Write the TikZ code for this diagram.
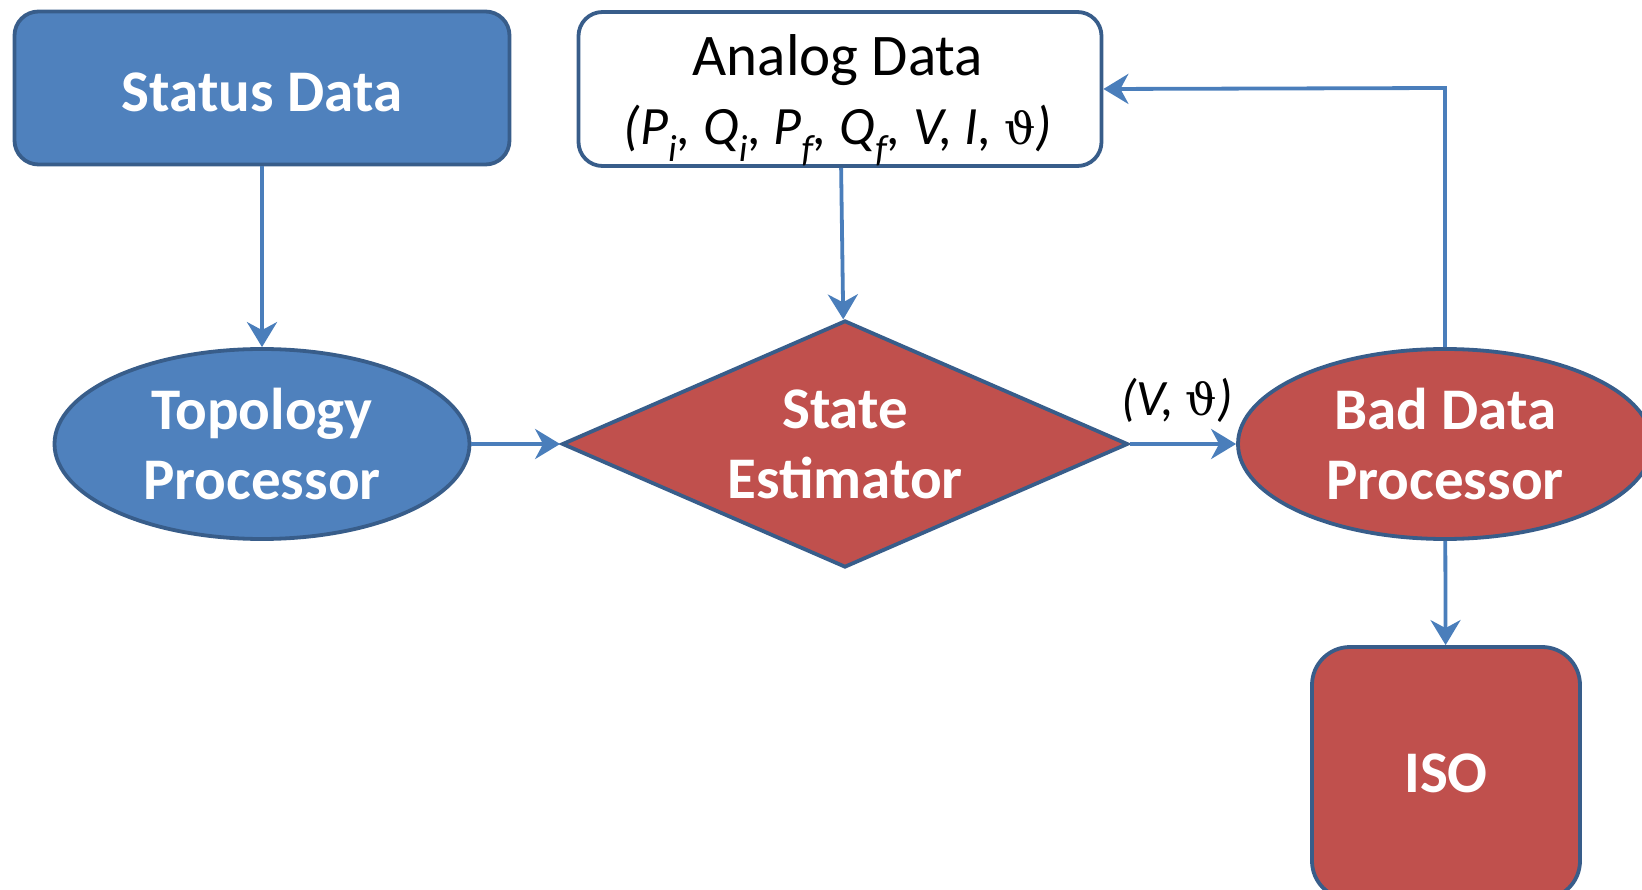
\documentclass[tikz,border=0pt]{standalone}
\usepackage{fontspec}
\setmainfont{Carlito}
\newfontfamily\greekit{DejaVu Serif}[UprightFont=*-Italic]
\usetikzlibrary{shapes.geometric,arrows.meta}
\definecolor{boxblue}{HTML}{4F81BD}
\definecolor{boxred}{HTML}{C0504D}
\definecolor{edgeblue}{HTML}{385D8A}
\definecolor{linkblue}{HTML}{4A7EBB}
\newcommand{\sub}[1]{\textsubscript{\textit{#1}}}
\newcommand{\vth}{{\greekit\fontsize{44}{54}\selectfont ϑ}}
\begin{document}
\begin{tikzpicture}[x=1pt,y=-1pt,
  shapebase/.style={draw=edgeblue, line width=3.8pt, inner sep=0pt, align=center,
    font=\fontsize{59}{70}\selectfont\bfseries, text=white},
  bluebox/.style={shapebase, fill=boxblue, rounded corners=24pt},
  blueoval/.style={shapebase, fill=boxblue, ellipse},
  redoval/.style={shapebase, fill=boxred, ellipse},
  reddiamond/.style={shapebase, fill=boxred, diamond, aspect=2.29},
  redbox/.style={shapebase, fill=boxred, rounded corners=38pt},
  whitebox/.style={shapebase, fill=white, rounded corners=24pt},
  boxtext/.style={inner sep=0pt, align=center, text=black,
    font=\fontsize{59}{70}\selectfont},
  link/.style={draw=linkblue, line width=3.8pt,
    -{Stealth[length=25pt,width=30pt,inset=8pt]}},
  tag/.style={font=\fontsize{51}{60}\selectfont\itshape, inner sep=0pt}
]
\clip (0,0) rectangle (1642,890);

% input boxes
\node[bluebox, minimum width=495pt, minimum height=153pt, text height=47pt, text depth=0pt]
  (status) at (262,88) {Status Data};
\node[whitebox, minimum width=523pt, minimum height=154pt] (analog) at (840,89) {};
\node[boxtext] (analogtext) at (838,100)
  {Analog Data\\[-1pt]{\fontsize{54}{60}\selectfont\itshape (P\sub{i}, Q\sub{i}, P\sub{f}, Q\sub{f}, V, I, \vth)}};

% processing stages
\node[blueoval, minimum width=415pt, minimum height=190pt] (topo) at (262,444) {Topology\\Processor};
\node[reddiamond, minimum width=566pt, minimum height=247pt] (se) at (845,444) {State\\Estimator};
\node[redoval, minimum width=414pt, minimum height=190pt] (bad) at (1445,444) {Bad Data\\Processor};
\node[redbox, minimum width=268pt, minimum height=252pt] (iso) at (1446,773) {ISO};

\coordinate (corner) at (1445,88);

% connectors
\draw[link] (status) -- (topo);
\draw[link] (analog) -- (se);
\draw[link] (topo) -- (se);
\draw[link] (se) -- node[tag, above=20pt, xshift=-6pt] {(V, \vth)} (bad);
\draw[link] (bad) -- (iso);
\draw[link] (bad.north) -- (corner) -- (analog.east);
\end{tikzpicture}
\end{document}
